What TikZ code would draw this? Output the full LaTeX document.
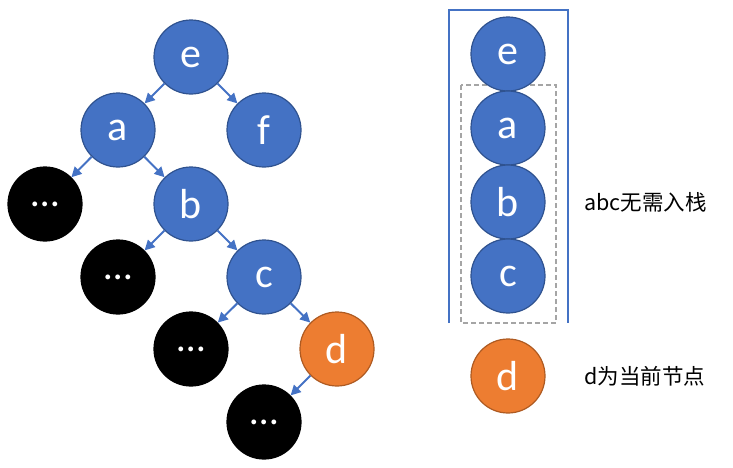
\documentclass[tikz,border=0pt]{standalone}
\usepackage{fontspec}
\setmainfont{Carlito}
\newfontfamily\cjk{Noto Sans CJK SC}
\usetikzlibrary{arrows.meta}
\definecolor{azul}{HTML}{4472C4}
\definecolor{azulborda}{HTML}{2F528F}
\definecolor{laranja}{HTML}{ED7D31}
\definecolor{laranjaborda}{HTML}{AE5A21}
\definecolor{cinza}{HTML}{A5A5A5}
\tikzset{
  no/.style={circle, minimum size=74pt, inner sep=0pt, line width=1.2pt, text=white, font=\fontsize{42}{42}\selectfont},
  noazul/.style={no, fill=azul, draw=azulborda},
  nolaranja/.style={no, fill=laranja, draw=laranjaborda},
  nopreto/.style={no, fill=black, draw=black, font=\fontsize{40}{40}\selectfont},
  seta/.style={-{Triangle[length=10pt,width=10pt]}, line width=2pt, draw=azul},
  rotulo/.style={anchor=west, font=\cjk\fontsize{21.5}{24}\selectfont}
}
\begin{document}
\begin{tikzpicture}[x=1pt, y=-1pt] %Desenho em pixels
	\useasboundingbox (0,0) rectangle (733,467); %Margens da figura
		%Pilha
	\draw[azul, line width=2pt] (449,323) -- (449,10) -- (568,10) -- (568,323); %Contorno da pilha
	\draw[cinza, line width=1.5pt, dash pattern=on 5pt off 3pt] (461,85) rectangle (556,323); %Parte que nao entra
		%Arvore
	\node[noazul] (e) at (191,57) {e};
	\node[noazul] (a) at (118,130) {a};
	\node[noazul] (f) at (264,130) {f};
	\node[nopreto] (p1) at (45,204) {…};
	\node[noazul] (b) at (191,204) {b};
	\node[nopreto] (p2) at (118,277) {…};
	\node[noazul] (c) at (264,277) {c};
	\node[nopreto] (p3) at (191,349) {…};
	\node[nolaranja] (d) at (337,349) {d};
	\node[nopreto] (p4) at (264,422) {…};
		%Ligacoes
	\draw[seta] (e) -- (a);
	\draw[seta] (e) -- (f);
	\draw[seta] (a) -- (p1);
	\draw[seta] (a) -- (b);
	\draw[seta] (b) -- (p2);
	\draw[seta] (b) -- (c);
	\draw[seta] (c) -- (p3);
	\draw[seta] (c) -- (d);
	\draw[seta] (d) -- (p4);
		%Conteudo da pilha
	\node[noazul] (se) at (508,54) {e};
	\node[noazul] (sa) at (508,128) {a};
	\node[noazul] (sb) at (508,202) {b};
	\node[noazul] (sc) at (508,276) {c};
	\node[nolaranja] (sd) at (508,376) {d};
		%Legendas
	\node[rotulo] (t1) at (581,202) {abc无需入栈};
	\node[rotulo] (t2) at (581,376) {d为当前节点};
\end{tikzpicture}
\end{document}
